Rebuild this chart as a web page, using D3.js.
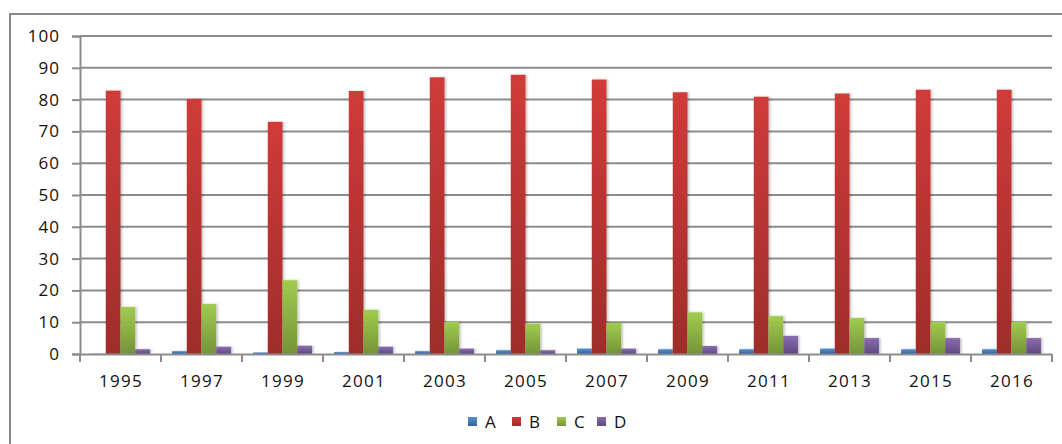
<!DOCTYPE html>
<html><head><meta charset="utf-8">
<script src="https://cdn.jsdelivr.net/npm/d3@7"></script>
<style>body{margin:0;background:#fff}svg{display:block}text{font-family:"Open Sans",sans-serif;fill:#111}</style>
</head><body><svg id="c" width="1062" height="444"></svg>
<script>
const years = ["1995","1997","1999","2001","2003","2005","2007","2009","2011","2013","2015","2016"];
const seriesNames = ["A","B","C","D"];
const valuesA = [0.1,0.9,0.5,0.6,0.9,1.2,1.7,1.5,1.5,1.7,1.5,1.5];
const valuesB = [82.8,80.2,73.0,82.7,87.0,87.8,86.3,82.3,80.9,81.9,83.1,83.1];
const valuesC = [14.8,15.7,23.2,13.9,10.1,9.5,9.8,13.1,11.9,11.3,10.1,10.1];
const valuesD = [1.5,2.3,2.6,2.3,1.7,1.2,1.7,2.5,5.7,5.0,5.0,5.0];
const yTicks = [0,10,20,30,40,50,60,70,80,90,100];
const colorsTop = ["#5a8fd0","#d03b39","#a0cc4e","#8a6bb0"];
const colorsBot = ["#2f62a0","#9e2d2b","#75933a","#5f4a80"];

const svg = d3.select("#c");
const defs = svg.append("defs");
seriesNames.forEach((s,i)=>{
  const g = defs.append("linearGradient").attr("id","g"+s).attr("x1",0).attr("y1",0).attr("x2",0).attr("y2",1);
  g.append("stop").attr("offset","0%").attr("stop-color",colorsTop[i]);
  g.append("stop").attr("offset","100%").attr("stop-color",colorsBot[i]);
});
const sh = defs.append("filter").attr("id","sh").attr("x","-20%").attr("y","-5%").attr("width","160%").attr("height","110%");
sh.append("feDropShadow").attr("dx",1.5).attr("dy",0).attr("stdDeviation",1).attr("flood-color","#000").attr("flood-opacity",0.25);

// outer border
svg.append("rect").attr("x",10).attr("y",14).attr("width",1100).attr("height",500)
  .attr("fill","none").attr("stroke","#8a8a8a").attr("stroke-width",2);

const pLeft = 80, pRight = 1052, pTop = 36, pBottom = 354;
const x0 = d3.scaleBand().domain(years).range([pLeft,pRight]).padding(0);
const x1 = d3.scaleBand().domain(seriesNames).range([0,x0.bandwidth()]).paddingInner(0).paddingOuter(0.75);
const y = d3.scaleLinear().domain([0,100]).range([pBottom,pTop]);

// gridlines
svg.append("g").selectAll("line").data(yTicks.filter(d=>d>0)).join("line")
  .attr("x1",pLeft).attr("x2",pRight).attr("y1",d=>y(d)).attr("y2",d=>y(d))
  .attr("stroke","#8c8c8c").attr("stroke-width",2);

// y axis
const ya = svg.append("g").attr("transform",`translate(${pLeft},0)`)
  .call(d3.axisLeft(y).tickValues(yTicks).tickSize(8).tickPadding(12));
ya.select(".domain").attr("stroke","#8c8c8c").attr("stroke-width",2);
ya.selectAll(".tick line").attr("stroke","#8c8c8c").attr("stroke-width",2);
ya.selectAll(".tick text").attr("font-size",17).attr("font-family","Open Sans").attr("fill","#111").attr("letter-spacing","1px");

const series = [valuesA,valuesB,valuesC,valuesD];
// bars
seriesNames.forEach((s,i)=>{
  svg.append("g").selectAll("rect").data(years.map((yr,j)=>({yr,v:series[i][j]}))).join("rect")
    .attr("x",d=>x0(d.yr)+x1(s)).attr("width",x1.bandwidth())
    .attr("y",d=>y(d.v)).attr("height",d=>y(0)-y(d.v))
    .attr("fill",`url(#g${s})`).attr("filter","url(#sh)");
});

// x axis
const xa = svg.append("g").attr("transform",`translate(0,${pBottom})`)
  .call(d3.axisBottom(x0).tickSize(0).tickPadding(21));
xa.select(".domain").attr("stroke","#8c8c8c").attr("stroke-width",2);
xa.selectAll(".tick text").attr("font-size",17).attr("font-family","Open Sans").attr("fill","#111").attr("letter-spacing","1.3px").attr("dx","0.6px");
svg.append("g").selectAll("line").data(years.map(d=>x0(d)).concat([pRight])).join("line")
  .attr("x1",d=>d).attr("x2",d=>d).attr("y1",pBottom).attr("y2",pBottom+8)
  .attr("stroke","#8c8c8c").attr("stroke-width",2);

// legend
const legX = [468,512,557,597];
const lg = svg.append("g");
seriesNames.forEach((s,i)=>{
  lg.append("rect").attr("x",legX[i]).attr("y",417).attr("width",9).attr("height",9).attr("fill",`url(#g${s})`);
  lg.append("text").attr("x",legX[i]+17).attr("y",428).attr("font-size",17).text(s);
});
</script></body></html>
